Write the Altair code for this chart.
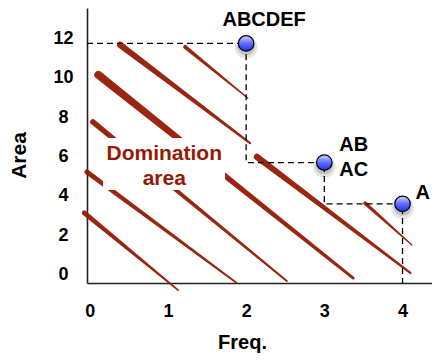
import altair as alt
import pandas as pd

# ---- data ----
freq = [2, 3, 4]
area = [11.75, 5.7, 3.6]
point_names = ["ABCDEF", "AB", "A"]

# hatch strokes of the "domination area" (start -> end, in data units)
stroke_x1 = [0.39, 1.22, 0.11, 0.04, -0.035, -0.07, 2.14, 3.52]
stroke_y1 = [11.67, 11.57, 10.15, 7.76, 5.22, 3.14, 5.98, 3.64]
stroke_x2 = [2.05, 2.02, 3.37, 2.52, 1.88, 1.13, 4.10, 4.12]
stroke_y2 = [6.69, 8.98, -0.17, -0.32, -0.42, -0.78, 0.09, 1.51]
stroke_w = [6.5, 4, 8, 5.5, 5, 5, 6.5, 3.5]

x_ticks = [0, 1, 2, 3, 4]
y_ticks = [0, 2, 4, 6, 8, 10, 12]
x_dom = [-0.035, 4.377]
y_dom = [-0.42, 13.55]

FONT = "Liberation Sans"
RED = "#941a04"

# ---- tables ----
trail_rows = []
for i in range(len(stroke_x1)):
    trail_rows.append({"id": i, "o": 0, "x": stroke_x1[i], "y": stroke_y1[i], "w": stroke_w[i]})
    trail_rows.append({"id": i, "o": 1, "x": stroke_x2[i], "y": stroke_y2[i], "w": stroke_w[i] * 0.35})
trail_df = pd.DataFrame(trail_rows)

pts = pd.DataFrame({"x": freq, "y": area, "name": point_names})

stair = pd.DataFrame({
    "x": [x_dom[0]] + freq,
    "y": area + [y_dom[0]],
    "o": list(range(len(freq) + 1)),
})

box = pd.DataFrame({"x": [0.17], "x2": [1.73], "y": [4.30], "y2": [6.95]})
dom_txt = pd.DataFrame({"x": [0.953, 0.953], "y": [5.83, 4.56], "t": ["Domination", "area"]})

xs = alt.Scale(domain=x_dom, nice=False, zero=False)
ys = alt.Scale(domain=y_dom, nice=False, zero=False)

x_axis = alt.Axis(
    values=x_ticks, ticks=False, grid=False, labelFont=FONT, labelFontSize=18,
    labelFontWeight="bold", labelColor="black", labelPadding=19, labelBaseline="top",
    domainColor="#222", domainWidth=1.6, title="Freq.", titleFont=FONT,
    titleFontSize=20, titleFontWeight="bold", titleColor="black",
    titleX=155, titleY=65, titleBaseline="alphabetic", titleAlign="center",
)
y_axis = alt.Axis(
    values=y_ticks, ticks=False, grid=False, labelFont=FONT, labelFontSize=18,
    labelFontWeight="bold", labelColor="black", labelAlign="center",
    labelBaseline="middle", labelPadding=24,
    domainColor="#222", domainWidth=1.6, title="Area", titleFont=FONT,
    titleFontSize=21, titleFontWeight="bold", titleColor="black",
    titleX=-62, titleY=147, titleBaseline="alphabetic", titleAlign="center",
    titleAngle=270,
)

def X(f="x"):
    return alt.X(f"{f}:Q", scale=xs, axis=x_axis, title="Freq.")

def Y(f="y"):
    return alt.Y(f"{f}:Q", scale=ys, axis=y_axis, title="Area")

strokes = alt.Chart(trail_df).mark_trail(color=RED, opacity=0.95).encode(
    x=X(), y=Y(),
    size=alt.Size("w:Q", scale=None),
    detail="id:N",
    order="o:O",
)

white_box = alt.Chart(box).mark_rect(color="white").encode(
    x=X(), x2="x2:Q", y=Y(), y2="y2:Q"
)

dom_text = alt.Chart(dom_txt).mark_text(
    font=FONT, fontSize=21, fontWeight="bold", color=RED, baseline="alphabetic", align="center"
).encode(x=X(), y=Y(), text="t:N")

stairs = alt.Chart(stair).mark_line(
    interpolate="step-after", color="black", strokeDash=[6, 4], strokeWidth=1.3
).encode(x=X(), y=Y(), order="o:O")

shadow = alt.Chart(pts).mark_point(
    filled=True, shape="circle", color="black", opacity=0.10, size=520, yOffset=4
).encode(x=X(), y=Y())
shadow2 = alt.Chart(pts).mark_point(
    filled=True, shape="circle", color="black", opacity=0.15, size=330, yOffset=3
).encode(x=X(), y=Y())

grad = alt.LinearGradient(
    gradient="linear",
    stops=[
        alt.GradientStop(offset=0, color="#d4daff"),
        alt.GradientStop(offset=0.45, color="#6676ff"),
        alt.GradientStop(offset=1, color="#1d2fe8"),
    ],
    x1=0.5, y1=0, x2=0.5, y2=1,
)
points = alt.Chart(pts).mark_point(
    filled=True, shape="circle", fill=grad, stroke="black", strokeWidth=1.2,
    size=240, opacity=1, fillOpacity=1, strokeOpacity=1,
).encode(x=X(), y=Y())

def label(name, text, dx, dy, align):
    return alt.Chart(pts[pts["name"] == name]).mark_text(
        text=text, font=FONT, fontSize=20, fontWeight="bold", color="black",
        dx=dx, dy=dy, align=align, baseline="alphabetic", lineHeight=25,
    ).encode(x=X(), y=Y())

lab1 = label("ABCDEF", "ABCDEF", 18, -17, "center")
lab2 = label("AB", ["AB", "AC"], 15, -12, "left")
lab3 = label("A", "A", 13, -5, "left")

chart = alt.layer(
    strokes, white_box, dom_text, stairs, shadow, shadow2, points, lab1, lab2, lab3
).properties(
    width=345, height=275,
    autosize=alt.AutoSizeParams(type="none"),
    padding={"left": 79, "top": 0, "right": 0, "bottom": 70},
    background="white",
).configure_view(stroke=None)

chart.save("out.html", embed_options={"renderer": "svg", "actions": False})
